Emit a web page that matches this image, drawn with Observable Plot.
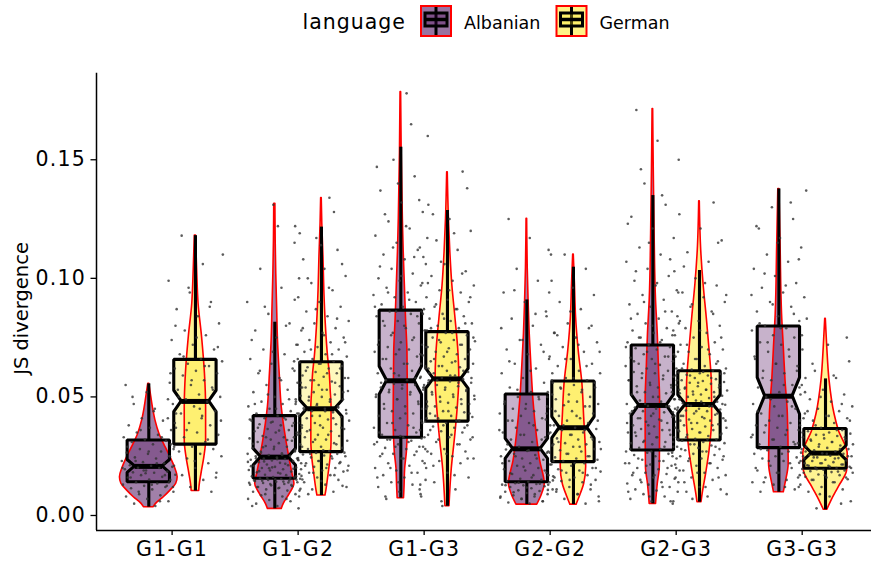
<!DOCTYPE html>
<html>
<head>
<meta charset="utf-8">
<script src="https://cdn.jsdelivr.net/npm/d3@7"></script>
<script src="https://cdn.jsdelivr.net/npm/@observablehq/plot@0.6"></script>
<style>
  html, body { margin: 0; padding: 0; background: #fff; }
  body { width: 871px; height: 561px; overflow: hidden; font-family: "DejaVu Sans", sans-serif; }
  #legend svg, #chart svg { display: block; }
</style>
</head>
<body>
<div id="legend"></div>
<div id="chart"></div>
<script>
// ---------------- data ----------------
const categories = ["G1-G1", "G1-G2", "G1-G3", "G2-G2", "G2-G3", "G3-G3"];
const languages = ["Albanian", "German"];
const legendTitle = "language";
const yLabel = "JS divergence";
const yTicks = [0, 0.05, 0.10, 0.15];
const languageColors = ["#440154", "#FDE725"];

// box statistics (lower whisker, Q1, median, Q3, upper whisker, notch half-height)
const albanianLow    = [0.0035, 0.0028, 0.0073, 0.0046, 0.0049, 0.0098];
const albanianQ1     = [0.0140, 0.0155, 0.0328, 0.0140, 0.0274, 0.0284];
const albanianMedian = [0.0207, 0.0246, 0.0568, 0.0281, 0.0464, 0.0503];
const albanianQ3     = [0.0316, 0.0419, 0.0864, 0.0510, 0.0717, 0.0797];
const albanianHigh   = [0.0555, 0.0815, 0.1553, 0.0909, 0.1349, 0.1377];
const albanianNotch  = [0.0027, 0.0035, 0.0059, 0.0042, 0.0045, 0.0077];

const germanLow    = [0.0103, 0.0084, 0.0039, 0.0046, 0.0056, 0.0024];
const germanQ1     = [0.0299, 0.0267, 0.0396, 0.0225, 0.0316, 0.0197];
const germanMedian = [0.0481, 0.0450, 0.0576, 0.0370, 0.0468, 0.0263];
const germanQ3     = [0.0656, 0.0646, 0.0773, 0.0565, 0.0608, 0.0365];
const germanHigh   = [0.1180, 0.1216, 0.1286, 0.1047, 0.1033, 0.0576];
const germanNotch  = [0.0045, 0.0035, 0.0042, 0.0045, 0.0039, 0.0031];

// violin density profiles: [value, relative density]
const albanianViolin = [
  [[.0555,.02],[.0513,.07],[.0457,.14],[.0401,.23],[.0344,.37],[.0288,.58],[.0246,.75],[.0204,.90],[.0161,1.0],[.0134,.95],[.0105,.75],[.0077,.52],[.0049,.25],[.0035,.17]],
  [[.1314,.02],[.1159,.03],[.1019,.05],[.0879,.08],[.0738,.11],[.0597,.17],[.0457,.24],[.0387,.31],[.0316,.40],[.0246,.50],[.0176,.61],[.0134,.68],[.0091,.52],[.0049,.31],[.0028,.24]],
  [[.1785,.01],[.1532,.03],[.1251,.07],[.1110,.10],[.0970,.14],[.0829,.18],[.0688,.23],[.0548,.24],[.0407,.25],[.0267,.21],[.0197,.15],[.0126,.13],[.0073,.11]],
  [[.1251,.01],[.1047,.03],[.0906,.06],[.0765,.10],[.0625,.16],[.0484,.23],[.0343,.34],[.0231,.46],[.0133,.62],[.0091,.53],[.0046,.36]],
  [[.1714,.01],[.1468,.03],[.1188,.06],[.0906,.11],[.0765,.17],[.0625,.21],[.0484,.25],[.0343,.25],[.0203,.24],[.0133,.17],[.0049,.11]],
  [[.1377,.02],[.1131,.06],[.0850,.11],[.0710,.17],[.0569,.23],[.0429,.31],[.0218,.34],[.0134,.23],[.0098,.17]]
];
const germanViolin = [
  [[.1180,.02],[.1033,.06],[.0892,.11],[.0752,.23],[.0597,.33],[.0457,.37],[.0316,.37],[.0246,.31],[.0176,.21],[.0119,.14],[.0103,.13]],
  [[.1339,.01],[.1230,.03],[.1089,.07],[.0949,.10],[.0808,.15],[.0668,.23],[.0597,.29],[.0527,.32],[.0457,.35],[.0387,.35],[.0316,.35],[.0246,.32],[.0176,.25],[.0105,.17],[.0084,.14]],
  [[.1447,.01],[.1251,.05],[.1110,.10],[.0970,.17],[.0829,.28],[.0688,.38],[.0576,.41],[.0478,.37],[.0337,.27],[.0197,.15],[.0039,.07]],
  [[.1100,.01],[.0977,.05],[.0836,.09],[.0696,.18],[.0555,.31],[.0415,.37],[.0274,.43],[.0204,.44],[.0133,.37],[.0077,.21],[.0046,.11]],
  [[.1325,.01],[.1117,.06],[.0977,.14],[.0836,.25],[.0696,.35],[.0555,.43],[.0415,.44],[.0274,.35],[.0176,.23],[.0091,.11],[.0056,.07]],
  [[.0829,.01],[.0710,.06],[.0569,.14],[.0429,.31],[.0358,.46],[.0260,.77],[.0190,.75],[.0120,.46],[.0063,.21],[.0024,.06]]
];

// individual observations (approximate)
const albanianPoints = [
  [.004,.005,.006,.007,.008,.0085,.009,.010,.011,.0115,.012,.0125,.013,.0135,.014,
   .015,.0152,.016,.0163,.017,.0172,.018,.0182,.0185,.019,.0195,.020,.0201,.0205,.021,
   .0212,.022,.0225,.023,.024,.0245,.025,.026,.0265,.027,.028,.029,.030,.031,.0315,
   .032,.033,.034,.035,.036,.037,.038,.040,.041,.043,.045,.047,.049,.052,.055,
   .006,.010,.012,.013,.016,.017,.019,.020,.022,.023,.025,.027,.029,.033,.036,.039,.044,.050,.0125,.0178],
  [.003,.004,.005,.006,.0065,.007,.008,.0085,.009,.0095,.010,.0105,.011,.0113,.0117,.012,.0123,.0127,.013,.0133,.0137,.014,.0142,.0145,.0148,.015,.0152,.0154,.0156,.016,
   .0162,.0165,.017,.0172,.0175,.018,.0182,.0185,.019,.0192,.0195,.020,.0202,.0205,.021,.0212,.0215,.022,.0222,.0225,.023,.0232,.0235,.0238,.024,.0242,.0244,.025,.0252,.0255,
   .026,.0262,.027,.0273,.028,.0283,.029,.0293,.030,.0305,.031,.0315,.032,.0325,.033,.0335,.034,.035,.0355,.036,.0365,.037,.038,.0385,.039,.0395,.040,.0405,.041,.042,
   .042,.043,.044,.045,.046,.047,.048,.049,.050,.052,.053,.055,.056,.058,.060,.062,.064,.066,.068,.070,.072,.075,.078,.081,.085,.090,.096,.104,.115,.131,
   .004,.007,.009,.0105,.0115,.012,.0128,.0133,.0138,.0143,.0147,.0151,.0153,.0148,.0139,
   .0158,.0167,.0177,.0187,.0197,.0203,.0208,.0218,.0228,.0233,.0237,.0241,.0158,.0199,.0226,
   .0255,.0265,.0278,.029,.0302,.0318,.033,.0345,.0358,.037,.0378,.0392,.0405,.0412,.0288,
   .043,.045,.047,.049,.051,.054,.057,.061,.065,.069,.074,.080,.088,.100,.122],
  [.007,.009,.010,.012,.013,.014,.015,.016,.017,.018,.019,.020,.021,.022,.023,.024,.025,.0255,.026,.027,.028,.0285,.029,.030,.031,.0315,.032,.033,
   .033,.034,.035,.036,.037,.038,.039,.040,.041,.042,.043,.044,.045,.046,.047,.048,.049,.050,.051,.052,.053,.0535,.054,.055,.0555,.056,.057,
   .057,.058,.059,.060,.061,.062,.063,.064,.066,.067,.068,.069,.070,.071,.072,.073,.074,.075,.077,.078,.079,.080,.081,.082,.084,.085,.086,
   .087,.088,.089,.090,.092,.093,.094,.096,.097,.099,.100,.102,.104,.106,.108,.110,.112,.115,.118,.121,.124,.128,.132,.137,.143,.150,.160,.178,
   .008,.011,.014,.016,.018,.020,.022,.024,.026,.027,.029,.030,.031,.032,.0325,
   .0335,.035,.037,.039,.041,.043,.045,.047,.049,.051,.052,.053,.054,.055,.056,
   .058,.060,.062,.064,.066,.068,.070,.072,.074,.076,.078,.080,.082,.084,.086,
   .088,.091,.094,.098,.101,.105,.109,.113,.117,.122,.127,.133,.140,.147,.165],
  [.005,.0055,.006,.007,.0075,.008,.0085,.009,.0095,.010,.0103,.0106,.011,.0115,.012,.0123,.0127,.013,.0133,.0136,.014,.0142,
   .0145,.015,.0155,.016,.017,.0175,.018,.019,.0195,.020,.021,.0215,.022,.023,.0235,.024,.025,.0255,.026,.027,.0272,.0278,.028,
   .029,.030,.031,.032,.033,.034,.035,.036,.037,.038,.039,.040,.041,.042,.043,.044,.045,.046,.047,.048,.049,.050,.051,
   .052,.054,.056,.058,.060,.062,.064,.066,.068,.070,.072,.074,.077,.080,.083,.086,.090,.094,.099,.104,.110,.117,.125,
   .006,.007,.008,.009,.0098,.0108,.0118,.0128,.0134,.0138,
   .0148,.016,.0178,.019,.0205,.022,.024,.025,.0265,.0275,
   .030,.032,.034,.036,.038,.040,.043,.045,.047,.050,
   .053,.057,.061,.065,.069,.074,.079,.085,.095,.112],
  [.005,.006,.007,.008,.009,.010,.0105,.011,.012,.013,.0135,.014,.015,.0155,.016,.017,.0175,.018,.019,.0195,.020,.021,.0215,.022,.023,.0235,.024,.025,.0255,.026,.0265,.027,
   .028,.0285,.029,.030,.0305,.031,.0315,.032,.033,.0335,.034,.0345,.035,.036,.0365,.037,.0375,.038,.039,.0395,.040,.0405,.041,.0415,.042,.043,.0435,.044,.0445,.045,.0455,.046,.0462,
   .047,.048,.0485,.049,.050,.051,.0515,.052,.053,.054,.0545,.055,.056,.057,.0575,.058,.059,.060,.0605,.061,.062,.063,.0635,.064,.065,.066,.0665,.067,.068,.069,.070,.0705,.071,
   .072,.073,.074,.075,.076,.077,.078,.079,.081,.082,.083,.085,.086,.088,.089,.091,.093,.095,.097,.099,.101,.104,.107,.110,.113,.117,.121,.126,.131,.140,.150,.158,.171,
   .006,.008,.010,.012,.014,.016,.017,.018,.020,.021,.022,.023,.024,.025,.027,
   .028,.029,.031,.032,.033,.035,.036,.038,.039,.040,.041,.042,.043,.044,.046,
   .047,.049,.050,.052,.054,.055,.057,.059,.060,.062,.064,.065,.067,.069,.071,
   .073,.075,.078,.080,.083,.086,.090,.094,.098,.103,.108,.115,.123,.135,.146],
  [.010,.011,.013,.014,.015,.016,.017,.018,.019,.020,.021,.022,.023,.024,.0245,.025,.026,.027,.0275,.028,
   .029,.030,.031,.032,.033,.034,.035,.036,.037,.038,.039,.040,.041,.042,.043,.045,.046,.047,.048,.050,
   .051,.052,.054,.055,.057,.058,.060,.061,.063,.064,.066,.067,.069,.070,.072,.073,.075,.076,.078,.079,
   .080,.082,.084,.086,.088,.090,.092,.094,.096,.098,.101,.104,.107,.110,.113,.117,.121,.125,.130,.137,
   .012,.014,.016,.018,.020,.022,.023,.025,.026,.028,
   .030,.032,.034,.036,.038,.040,.042,.044,.046,.049,
   .052,.055,.058,.061,.064,.067,.070,.073,.076,.079,
   .081,.085,.089,.093,.097,.102,.108,.115,.122,.132]
];
const germanPoints = [
  [.010,.012,.014,.015,.017,.018,.020,.021,.022,.024,.025,.026,.027,.028,.029,
   .030,.031,.033,.034,.035,.037,.038,.039,.041,.042,.043,.044,.046,.047,.048,
   .049,.050,.051,.053,.054,.055,.056,.057,.059,.060,.061,.062,.063,.064,.065,
   .066,.068,.070,.072,.074,.076,.078,.081,.084,.087,.090,.094,.099,.106,.118,
   .016,.023,.028,.032,.036,.040,.045,.050,.053,.057,.060,.063,.067,.071,.075,.080,.088,.096,.110,.041],
  [.008,.010,.011,.012,.013,.014,.015,.016,.0165,.017,.018,.0185,.019,.0195,.020,.0205,.021,.0215,.022,.0225,.023,.0235,.024,.0245,.025,.0253,.0257,.026,.0264,.027,
   .0272,.028,.0285,.029,.030,.0305,.031,.0315,.032,.033,.0335,.034,.035,.0355,.036,.0365,.037,.038,.0385,.039,.040,.0405,.041,.0415,.042,.043,.0435,.044,.0445,.045,
   .0452,.046,.0465,.047,.048,.0485,.049,.050,.0505,.051,.052,.0525,.053,.054,.0545,.055,.056,.0565,.057,.058,.0585,.059,.060,.0605,.061,.062,.0625,.063,.064,.0645,
   .065,.066,.067,.068,.069,.070,.071,.072,.073,.074,.075,.077,.078,.079,.081,.082,.084,.086,.088,.090,.092,.095,.098,.101,.104,.108,.112,.117,.122,.134,
   .009,.0125,.0145,.0155,.017,.018,.019,.020,.021,.022,.023,.024,.025,.026,.0265,
   .0275,.029,.030,.032,.033,.034,.0355,.037,.038,.039,.041,.042,.043,.044,.0445,
   .0455,.047,.048,.049,.050,.052,.053,.054,.056,.057,.058,.060,.061,.062,.064,
   .066,.068,.070,.073,.076,.079,.083,.087,.091,.096,.100,.106,.114,.119,.128],
  [.004,.008,.011,.014,.016,.018,.020,.022,.023,.024,.025,.026,.027,.028,.029,.030,.031,.032,.033,.034,.035,.0355,.036,.037,.0375,.038,.039,.0395,
   .040,.041,.0415,.042,.043,.0435,.044,.045,.0455,.046,.047,.0475,.048,.049,.050,.0505,.051,.052,.0525,.053,.054,.0545,.055,.056,.0565,.057,.0575,
   .058,.0585,.059,.060,.0605,.061,.062,.0625,.063,.064,.0645,.065,.066,.067,.0675,.068,.069,.070,.0705,.071,.072,.073,.0735,.074,.075,.076,.077,
   .078,.079,.080,.081,.082,.083,.084,.085,.086,.087,.088,.090,.091,.092,.094,.095,.097,.099,.101,.103,.106,.109,.112,.116,.120,.125,.131,.145,
   .006,.013,.017,.021,.024,.026,.028,.030,.032,.033,.034,.036,.037,.038,.039,
   .040,.042,.043,.044,.046,.047,.048,.049,.050,.051,.053,.054,.055,.056,.057,
   .058,.059,.060,.061,.063,.064,.065,.066,.068,.069,.071,.072,.074,.075,.077,
   .079,.081,.083,.085,.087,.089,.092,.095,.098,.102,.107,.113,.119,.127,.138],
  [.005,.007,.008,.009,.010,.011,.012,.013,.014,.0145,.015,.016,.0165,.017,.018,.0185,.019,.0195,.020,.021,.0215,.022,
   .023,.0235,.024,.0245,.025,.026,.0265,.027,.0275,.028,.029,.0295,.030,.0305,.031,.032,.0325,.033,.034,.0345,.035,.036,.0365,
   .037,.038,.039,.040,.0405,.041,.042,.043,.044,.045,.046,.0465,.047,.048,.049,.050,.051,.052,.053,.0535,.054,.055,.056,
   .057,.058,.060,.061,.063,.064,.066,.067,.069,.071,.073,.075,.077,.079,.081,.084,.087,.090,.093,.096,.099,.104,.110,
   .006,.009,.011,.013,.015,.017,.018,.019,.020,.022,
   .023,.025,.026,.028,.029,.031,.032,.034,.035,.036,
   .038,.040,.042,.044,.046,.048,.050,.052,.054,.056,
   .058,.060,.063,.066,.069,.072,.076,.080,.086,.094],
  [.006,.008,.010,.011,.012,.014,.015,.016,.017,.018,.019,.020,.021,.0215,.022,.023,.0235,.024,.025,.0255,.026,.0265,.027,.0275,.028,.0285,.029,.0295,.030,.0305,.031,.0315,
   .032,.0323,.033,.0335,.034,.0345,.035,.0355,.036,.0365,.037,.0375,.038,.0385,.039,.0395,.040,.0405,.041,.0415,.042,.0425,.043,.0435,.044,.0443,.0447,.045,.0455,.046,.0463,.0467,
   .047,.0473,.048,.0485,.049,.0495,.050,.0505,.051,.0515,.052,.0523,.0527,.053,.0535,.054,.0545,.055,.0555,.056,.0563,.0567,.057,.0575,.058,.0585,.059,.0593,.0597,.060,.0603,.061,.0615,
   .062,.063,.064,.065,.066,.067,.068,.069,.070,.071,.072,.073,.075,.076,.077,.079,.080,.082,.084,.086,.088,.090,.092,.094,.097,.100,.103,.107,.111,.116,.121,.127,.132,
   .007,.009,.012,.014,.016,.018,.020,.022,.024,.025,.027,.028,.029,.030,.031,
   .032,.033,.034,.035,.036,.038,.039,.040,.041,.042,.043,.044,.045,.046,.0465,
   .047,.048,.049,.050,.051,.052,.053,.054,.055,.056,.057,.058,.059,.060,.0605,
   .062,.064,.066,.068,.070,.072,.075,.078,.081,.085,.089,.093,.098,.105,.115],
  [.003,.006,.008,.010,.011,.012,.013,.014,.015,.0153,.016,.0163,.017,.0173,.018,.0183,.0187,.019,.0193,.0196,
   .020,.0202,.0205,.021,.0212,.0215,.022,.0222,.0225,.023,.0232,.0235,.024,.0242,.0245,.025,.0252,.0255,.026,.0262,
   .0265,.027,.0275,.028,.0285,.029,.0295,.030,.0305,.031,.0315,.032,.0325,.033,.0335,.034,.0345,.035,.0355,.036,
   .037,.038,.039,.040,.041,.042,.043,.044,.045,.046,.048,.049,.051,.053,.055,.058,.061,.065,.072,.083,
   .005,.009,.012,.014,.015,.016,.017,.018,.0185,.0195,
   .020,.0205,.021,.0215,.022,.023,.024,.0245,.025,.026,
   .027,.028,.029,.030,.031,.032,.033,.034,.035,.036,
   .038,.040,.042,.044,.047,.050,.054,.059,.064,.075]
];

// ---------------- build tables ----------------
const dodge = 0.185;        // offset of each language from the category centre (x units)
const boxHalf = 0.168;      // half width of the boxes (x units)
const notchWidth = 0.65;    // relative width of the notch
const violinMax = 0.229;    // half width of a violin at density 1 (x units)
const jitterHalf = 0.22;    // jitter half width (x units)

const series = [
  {lang: languages[0], low: albanianLow, q1: albanianQ1, med: albanianMedian, q3: albanianQ3, high: albanianHigh, notch: albanianNotch, violin: albanianViolin, points: albanianPoints},
  {lang: languages[1], low: germanLow, q1: germanQ1, med: germanMedian, q3: germanQ3, high: germanHigh, notch: germanNotch, violin: germanViolin, points: germanPoints}
];

const boxes = [], boxPoly = [], violins = [], whiskers = [], dots = [];
const inner = boxHalf * notchWidth;
series.forEach((s, li) => {
  categories.forEach((cat, ci) => {
    const cx = ci + 1 + (li === 0 ? -dodge : dodge);
    const id = s.lang + "|" + cat;
    const b = {id, lang: s.lang, cx, low: s.low[ci], q1: s.q1[ci], med: s.med[ci], q3: s.q3[ci], high: s.high[ci], notch: s.notch[ci]};
    boxes.push(b);
    [[b.q1, boxHalf], [b.med - b.notch, boxHalf], [b.med, inner], [b.med + b.notch, boxHalf], [b.q3, boxHalf]]
      .forEach(([y, h]) => boxPoly.push({id, lang: s.lang, y, x1: cx - h, x2: cx + h}));
    whiskers.push({cx, y1: b.low, y2: b.q1}, {cx, y1: b.q3, y2: b.high});
    s.violin[ci].forEach(([y, d]) => violins.push({id, lang: s.lang, y, x1: cx - d * violinMax, x2: cx + d * violinMax}));
    s.points[ci].forEach((v, i) => {
      const u = ((i + 1) * 0.6180339887 + ci * 0.31 + li * 0.17) % 1;
      dots.push({x: cx + (2 * u - 1) * jitterHalf, y: v});
    });
  });
});

// ---------------- legend ----------------
const legend = d3.select("#legend").append("svg")
  .attr("width", 871).attr("height", 45)
  .attr("font-family", "DejaVu Sans, sans-serif");
legend.append("text").attr("x", 302.5).attr("y", 28.5)
  .attr("font-size", 20.5).attr("letter-spacing", "1px").attr("fill", "black").text(legendTitle);
languages.forEach((lang, i) => {
  const kx = 420 + i * 135.5, ky = 5;
  const g = legend.append("g").attr("transform", `translate(${kx},${ky})`);
  g.append("rect").attr("x", 1).attr("y", 1).attr("width", 30).attr("height", 30)
    .attr("fill", languageColors[i]).attr("fill-opacity", 0.55).attr("stroke", "red").attr("stroke-width", 2);
  g.append("line").attr("x1", 16).attr("x2", 16).attr("y1", 2).attr("y2", 30)
    .attr("stroke", "black").attr("stroke-width", 3);
  g.append("rect").attr("x", 5).attr("y", 8).attr("width", 22).attr("height", 13)
    .attr("fill", languageColors[i]).attr("fill-opacity", 0.3).attr("stroke", "black").attr("stroke-width", 3);
  g.append("line").attr("x1", 5).attr("x2", 27).attr("y1", 14.5).attr("y2", 14.5)
    .attr("stroke", "black").attr("stroke-width", 3.5);
  legend.append("text").attr("x", kx + 44).attr("y", 28.5)
    .attr("font-size", 17.5).attr("fill", "black").text(lang);
});

// ---------------- chart ----------------
const chart = Plot.plot({
  width: 871,
  height: 516,
  marginLeft: 96,
  marginRight: 0,
  marginTop: 27.7,
  marginBottom: 31,
  x: {domain: [0.4, 6.55]},
  y: {domain: [-0.00633, 0.1865]},
  color: {domain: languages, range: languageColors},
  style: {fontFamily: "DejaVu Sans, sans-serif", fontSize: "20.5px", color: "black", background: "white"},
  marks: [
    Plot.areaX(boxPoly, {y: "y", x1: "x1", x2: "x2", z: "id", fill: "lang", fillOpacity: 0.3, curve: "linear"}),
    Plot.areaX(violins, {y: "y", x1: "x1", x2: "x2", z: "id", fill: "lang", fillOpacity: 0.5,
      stroke: "red", strokeWidth: 1.6, curve: "monotone-y"}),
    Plot.areaX(boxPoly, {y: "y", x1: "x1", x2: "x2", z: "id", fill: "none", stroke: "black",
      strokeWidth: 3.1, strokeLinejoin: "miter", curve: "linear"}),
    Plot.ruleX(whiskers, {x: "cx", y1: "y1", y2: "y2", stroke: "black", strokeWidth: 3.1}),
    Plot.ruleY(boxes, {y: "med", x1: d => d.cx - inner, x2: d => d.cx + inner, stroke: "black", strokeWidth: 5}),
    Plot.dot(dots, {x: "x", y: "y", r: 1.3, fill: "#333333", fillOpacity: 0.8, stroke: null}),
    Plot.ruleX([0.4], {stroke: "black", strokeWidth: 1.5}),
    Plot.ruleY([-0.00633], {stroke: "black", strokeWidth: 1.5}),
    Plot.axisY({ticks: yTicks, tickFormat: d3.format(".2f"), tickSize: 5.5, tickPadding: 5, strokeWidth: 1.3, label: null}),
    Plot.axisX({ticks: categories.map((c, i) => i + 1), tickFormat: d => categories[d - 1], tickSize: 5, tickPadding: 6.3, strokeWidth: 1.3, label: null}),
    Plot.text([yLabel], {frameAnchor: "left", textAnchor: "middle", rotate: -90, dx: -75, dy: 6.6, fontSize: 19.5})
  ]
});
document.getElementById("chart").appendChild(chart);
d3.select(chart).selectAll('g[aria-label="y-axis tick label"] text, g[aria-label="x-axis tick label"] text')
  .style("letter-spacing", "1.2px");
</script>
</body>
</html>
